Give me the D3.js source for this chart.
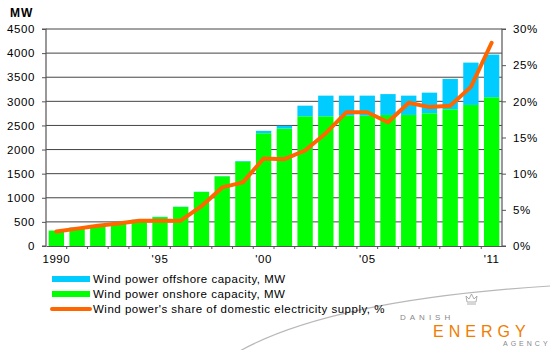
<!DOCTYPE html>
<html>
<head>
<meta charset="utf-8">
<script src="https://cdn.jsdelivr.net/npm/d3@7"></script>
<style>
    body { margin: 0; background: #fff; }
    svg text { font-family: "Liberation Sans", Arial, sans-serif; fill: #000; }
</style>
</head>
<body>
<svg id="chart" width="550" height="350"></svg>
<script>
// Danish wind power 1990-2011
const years = d3.range(1990, 2012);
const onshore = [320, 380, 430, 477, 540, 600, 810, 1120, 1445, 1750, 2338, 2434, 2690, 2690, 2700, 2700, 2718, 2718, 2753, 2836, 2925, 3085];
const offshore = [0, 5, 5, 5, 5, 5, 5, 5, 5, 13, 50, 60, 220, 428, 418, 418, 432, 400, 427, 629, 878, 884];
const share = [2.0, 2.4, 2.8, 3.1, 3.5, 3.5, 3.5, 5.5, 8.1, 8.8, 12.1, 12.0, 13.2, 15.6, 18.5, 18.5, 17.1, 19.8, 19.2, 19.4, 22.0, 28.1];
const leftTicks = d3.range(0, 4501, 500);
const rightTicks = [0, 5, 10, 15, 20, 25, 30];
const xLabels = {1990: '1990', 1995: "'95", 2000: "'00", 2005: "'05", 2011: "'11"};
const legendItems = [
    {label: 'Wind power offshore capacity, MW', color: '#00ccff', type: 'rect'},
    {label: 'Wind power onshore capacity, MW', color: '#00ff00', type: 'rect'},
    {label: "Wind power's share of domestic electricity supply, %", color: '#ff6600', type: 'line'}
];

const svg = d3.select('#chart');
const plotLeft = 46, plotRight = 502, plotTop = 29, plotBottom = 246;

const x = d3.scaleBand().domain(years).range([plotLeft, plotRight]).paddingInner(0.26).paddingOuter(0.13);
const yL = d3.scaleLinear().domain([0, 4500]).range([plotBottom, plotTop]);
const yR = d3.scaleLinear().domain([0, 30]).range([plotBottom, plotTop]);

// decorative swoosh of the logo
svg.append('path')
    .attr('d', 'M238,352 Q330,300 550,286')
    .attr('fill', 'none')
    .attr('stroke', '#b8b8b8')
    .attr('stroke-width', 1.2);

// gridlines
svg.append('g').selectAll('line')
    .data(leftTicks.filter(d => d > 0))
    .join('line')
    .attr('x1', plotLeft).attr('x2', plotRight)
    .attr('y1', d => yL(d)).attr('y2', d => yL(d))
    .attr('stroke', '#444').attr('stroke-width', 1);

// bars
const bars = svg.append('g');
bars.selectAll('rect.on')
    .data(years)
    .join('rect')
    .attr('class', 'on')
    .attr('x', d => x(d))
    .attr('width', x.bandwidth())
    .attr('y', (d, i) => yL(onshore[i]))
    .attr('height', (d, i) => plotBottom - yL(onshore[i]))
    .attr('fill', '#00ff00');
bars.selectAll('rect.off')
    .data(years)
    .join('rect')
    .attr('class', 'off')
    .attr('x', d => x(d))
    .attr('width', x.bandwidth())
    .attr('y', (d, i) => yL(onshore[i] + offshore[i]))
    .attr('height', (d, i) => yL(onshore[i]) - yL(onshore[i] + offshore[i]))
    .attr('fill', '#00ccff');

// axes
let leftAxis = d3.axisLeft(yL).tickValues(leftTicks).tickSize(4).tickPadding(7)
    .tickFormat(d3.format('d'));
let rightAxis = d3.axisRight(yR).tickValues(rightTicks).tickSize(4).tickPadding(7)
    .tickFormat(d => d + '%');
let bottomAxis = d3.axisBottom(x).tickSize(0).tickPadding(9).tickFormat(d => xLabels[d] || '');

const gL = svg.append('g').attr('transform', `translate(${plotLeft},0)`).call(leftAxis);
const gR = svg.append('g').attr('transform', `translate(${plotRight},0)`).call(rightAxis);
const gB = svg.append('g').attr('transform', `translate(0,${plotBottom})`).call(bottomAxis);

[gL, gR, gB].forEach(g => {
    g.select('.domain').attr('stroke', '#555').attr('stroke-width', 1.2);
    g.selectAll('.tick line').attr('stroke', '#555');
    g.selectAll('.tick text')
        .style('font-family', '"Liberation Sans", Arial, sans-serif')
        .style('font-size', '11.5px')
        .style('letter-spacing', '0.6px')
        .attr('fill', '#000');
});
gL.select('.domain').attr('d', `M-4,${plotTop}H0V${plotBottom}H-4`);
gR.select('.domain').attr('d', `M4,${plotTop}H0V${plotBottom}H4`);

// little tick marks between years
svg.append('g').selectAll('line')
    .data(years.slice(1))
    .join('line')
    .attr('x1', d => x(d) - x.step() * x.paddingInner() / 2)
    .attr('x2', d => x(d) - x.step() * x.paddingInner() / 2)
    .attr('y1', plotBottom).attr('y2', plotBottom + 3)
    .attr('stroke', '#555');

// share line
const line = d3.line()
    .x((d, i) => x(years[i]) + x.bandwidth() / 2)
    .y(d => yR(d));
svg.append('path')
    .datum(share)
    .attr('d', line)
    .attr('fill', 'none')
    .attr('stroke', '#ff6600')
    .attr('stroke-width', 4)
    .attr('stroke-linejoin', 'round')
    .attr('stroke-linecap', 'round');

// MW unit label
svg.append('text')
    .attr('x', 10).attr('y', 17)
    .style('font-size', '12px')
    .style('font-weight', 'bold')
    .style('letter-spacing', '1px')
    .text('MW');

// legend
const legend = svg.append('g');
legendItems.forEach((item, i) => {
    const ly = 279 + i * 15;
    if (item.type === 'rect') {
        legend.append('rect')
            .attr('x', 52).attr('y', ly - 3).attr('width', 38).attr('height', 6)
            .attr('fill', item.color);
    } else {
        legend.append('line')
            .attr('x1', 52).attr('x2', 90).attr('y1', ly).attr('y2', ly)
            .attr('stroke', item.color).attr('stroke-width', 4)
            .attr('stroke-linecap', 'round');
    }
    legend.append('text')
        .attr('x', 93).attr('y', ly + 4)
        .style('font-size', '11.5px')
        .style('letter-spacing', '0.5px')
        .text(item.label);
});

// logo
const logo = svg.append('g');
logo.append('text')
    .attr('x', 400).attr('y', 320)
    .style('font-size', '8px')
    .style('letter-spacing', '4px')
    .style('fill', '#888')
    .text('DANISH');
logo.append('text')
    .attr('x', 433).attr('y', 337)
    .style('font-size', '16px')
    .style('letter-spacing', '5px')
    .style('fill', '#f07d00')
    .text('ENERGY');
logo.append('text')
    .attr('x', 503).attr('y', 346)
    .style('font-size', '7px')
    .style('letter-spacing', '3px')
    .style('fill', '#888')
    .text('AGENCY');
// small crown
const crown = logo.append('g').attr('transform', 'translate(466,293)').attr('fill', 'none').attr('stroke', '#999').attr('stroke-width', 0.8);
crown.append('path').attr('d', 'M1,9 L0,3 L3,6 L5.5,1 L8,6 L11,3 L10,9 Z');
crown.append('line').attr('x1', 1).attr('x2', 10).attr('y1', 11).attr('y2', 11);
</script>
</body>
</html>
